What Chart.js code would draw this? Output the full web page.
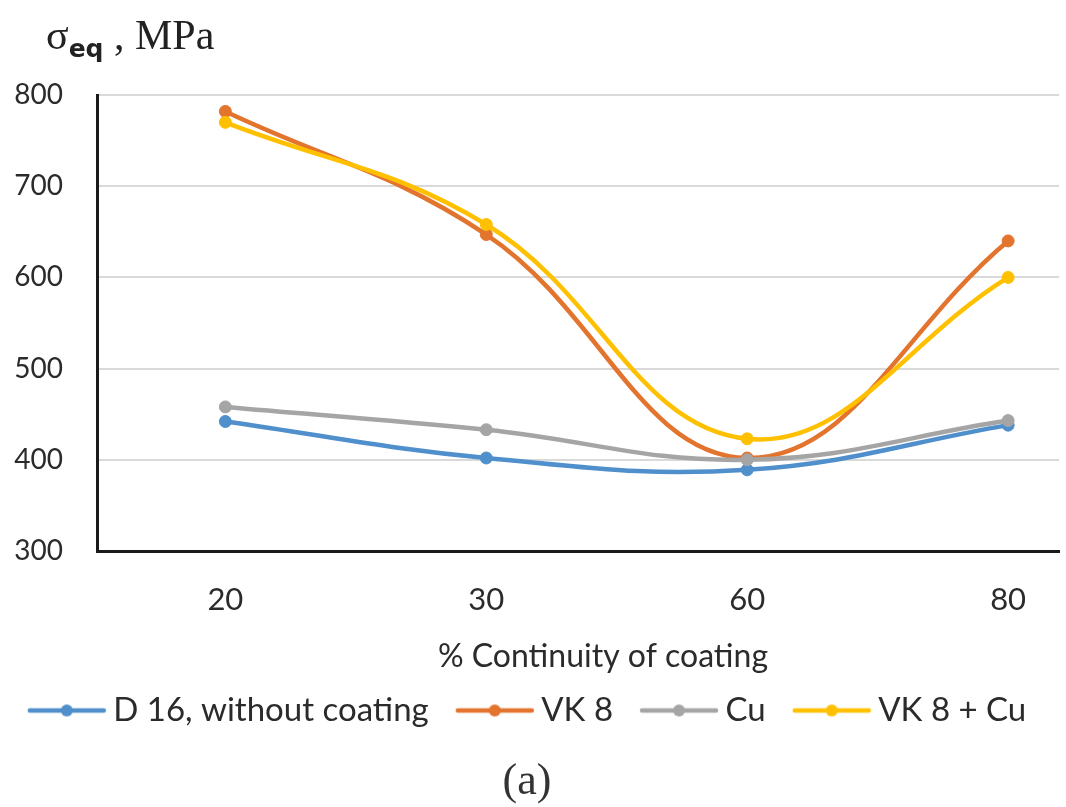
<!DOCTYPE html>
<html>
<head>
<meta charset="utf-8">
<script src="https://cdn.jsdelivr.net/npm/chart.js@4/dist/chart.umd.min.js"></script>
<style>
  html, body { margin:0; padding:0; background:#fff; }
  #wrap { position:relative; width:1066px; height:807px; }
  #c { position:absolute; left:0; top:0; }
  #ytitle { position:absolute; left:46px; top:14px; font-family:'Liberation Serif', serif; font-size:42px; line-height:42px; color:#222; white-space:nowrap; }
  #ytitle sub { font-family:'DejaVu Sans', sans-serif; font-weight:bold; font-size:25px; vertical-align:baseline; position:relative; top:8px; }
  #cap { position:absolute; left:477px; width:100px; top:758px; text-align:center; font-family:'Liberation Serif', serif; font-size:44px; line-height:44px; color:#333; }
</style>
</head>
<body>
<div id="wrap">
  <canvas id="c" width="1066" height="807"></canvas>
  <div id="ytitle">σ<sub>eq</sub> , MPa</div>
  <div id="cap">(a)</div>
</div>
<script>
const categories = ['20', '30', '60', '80'];
const seriesNames = ['D 16, without coating', 'VK 8', 'Cu', 'VK 8 + Cu'];
const d16 = [442, 402, 389, 438];
const vk8 = [782, 647, 402, 640];
const cu = [458, 433, 400, 443];
const vk8cu = [770, 658, 423, 600];
const yTicks = [300, 400, 500, 600, 700, 800];
const xTitle = '% Continuity of coating';
const colors = ['#4F8FCC', '#E2742E', '#A5A5A5', '#FFC000'];
const seriesValues = [d16, vk8, cu, vk8cu];

function legendIcon(color) {
  const cv = document.createElement('canvas');
  cv.width = 80; cv.height = 16;
  const g = cv.getContext('2d');
  g.strokeStyle = color; g.lineWidth = 4.5; g.lineCap = 'round';
  g.beginPath(); g.moveTo(3, 8); g.lineTo(77, 8); g.stroke();
  g.fillStyle = color;
  g.beginPath(); g.arc(40, 8, 6, 0, Math.PI * 2); g.fill();
  return cv;
}

const datasets = seriesNames.map((name, i) => ({
  label: name,
  data: seriesValues[i].map((v, j) => ({ x: j, y: v })),
  borderColor: colors[i],
  backgroundColor: colors[i],
  borderWidth: 4.5,
  pointRadius: 6,
  pointHoverRadius: 6,
  pointBorderWidth: 1,
  pointStyle: 'circle',
  tension: 0.4,
  order: 4 - i
}));
const icons = colors.map(legendIcon);

const xTitlePlugin = {
  id: 'xTitlePlugin',
  afterDraw(chart) {
    const { ctx, chartArea } = chart;
    ctx.save();
    ctx.font = '32px Lato';
    ctx.fillStyle = '#2b2b2b';
    ctx.textAlign = 'center';
    ctx.textBaseline = 'middle';
    ctx.fillText(xTitle, (chartArea.left + chartArea.right) / 2 + 25, chartArea.bottom + 106);
    ctx.restore();
  }
};

new Chart(document.getElementById('c'), {
  type: 'line',
  data: { datasets },
  plugins: [xTitlePlugin],
  options: {
    responsive: false,
    animation: false,
    layout: { padding: { top: 95, left: 0, right: 3, bottom: 70 } },
    scales: {
      x: {
        type: 'linear',
        min: -0.492,
        max: 3.195,
        afterBuildTicks: s => { s.ticks = categories.map((_, i) => ({ value: i })); },
        afterFit: s => { s.height = 107; },
        grid: { display: false, drawTicks: false },
        border: { display: true, color: '#1a1a1a', width: 3 },
        ticks: {
          padding: 30,
          autoSkip: false,
          maxRotation: 0,
          color: '#2b2b2b',
          font: { family: 'Lato', size: 31 },
          callback: v => categories[v] !== undefined ? categories[v] : ''
        },
        title: { display: false }
      },
      y: {
        min: 300,
        max: 800,
        afterBuildTicks: s => { s.ticks = yTicks.map(v => ({ value: v })); },
        afterFit: s => { s.width = 97; },
        grid: { color: '#d9d9d9', lineWidth: 2, drawTicks: false },
        border: { display: true, color: '#1a1a1a', width: 3 },
        ticks: {
          padding: 34,
          color: '#2b2b2b',
          font: { family: 'Lato', size: 28 }
        }
      }
    },
    plugins: {
      tooltip: { enabled: false },
      legend: {
        position: 'bottom',
        labels: {
          usePointStyle: true,
          pointStyleWidth: 60,
          padding: 36,
          color: '#2b2b2b',
          font: { family: 'Lato', size: 33 },
          generateLabels: chart => chart.data.datasets.map((d, i) => ({
            text: d.label,
            pointStyle: icons[i],
            fillStyle: d.borderColor,
            strokeStyle: d.borderColor,
            lineWidth: 0,
            fontColor: '#2b2b2b',
            hidden: false,
            datasetIndex: i
          }))
        }
      }
    }
  }
});
</script>
</body>
</html>
